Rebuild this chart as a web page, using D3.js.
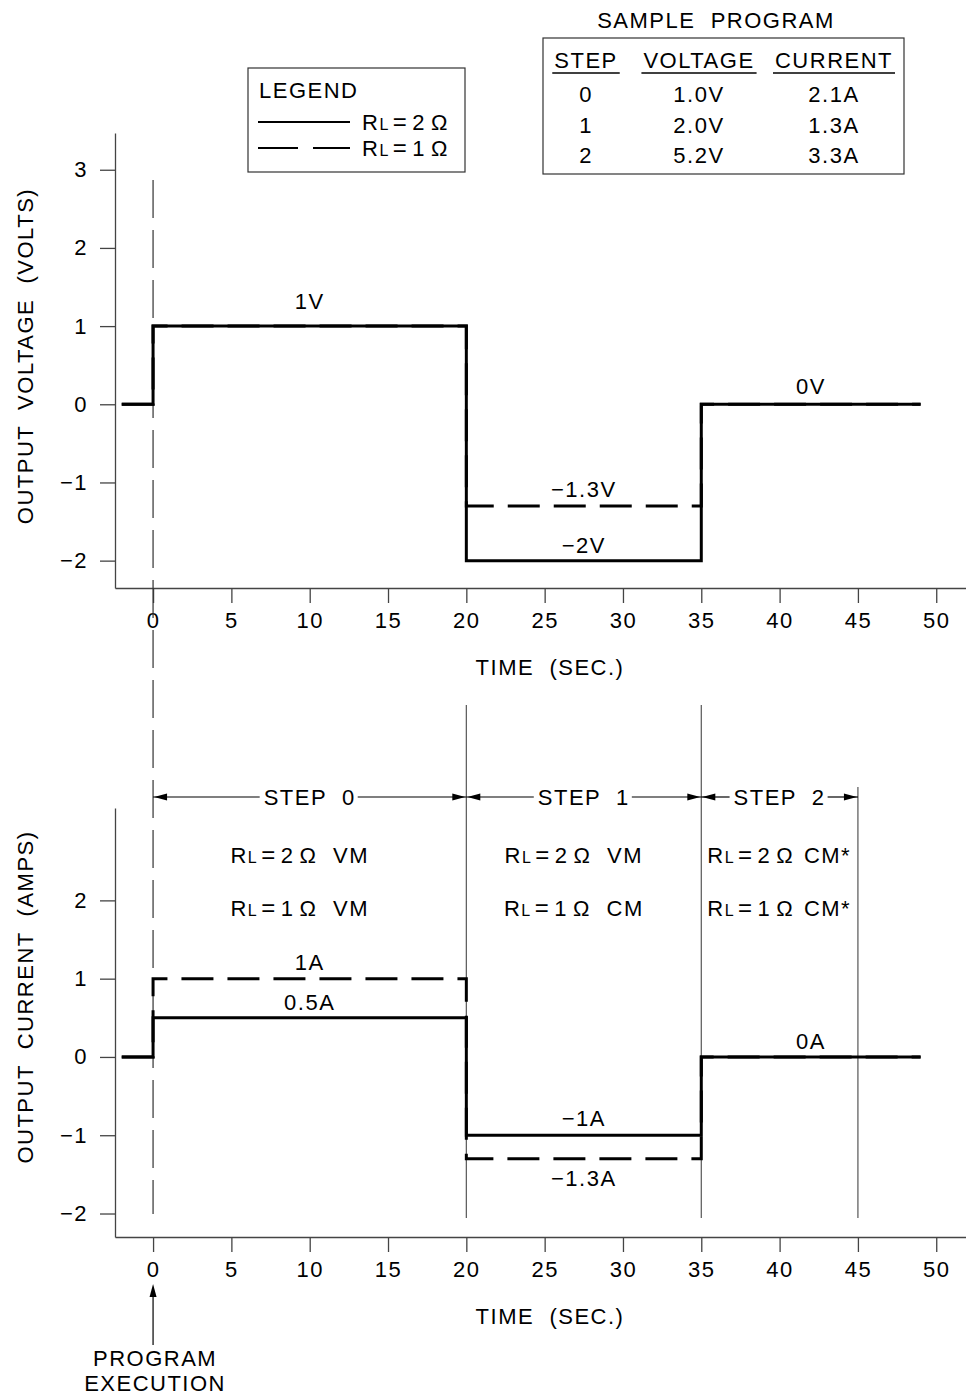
<!DOCTYPE html>
<html>
<head>
<meta charset="utf-8">
<script src="https://cdn.jsdelivr.net/npm/d3@7"></script>
<style>
  body { margin: 0; background: #fff; }
  text { font-family: "Liberation Sans", Arial, sans-serif; font-size: 22px; letter-spacing: 1.5px; fill: #000; white-space: pre; }
</style>
</head>
<body>
<div id="chart"></div>
<script>
// step programme, time in seconds
const times = [-2, 0, 20, 35, 49];
const voltage2Ohm = [0, 1, -2, 0, 0];
const voltage1Ohm = [0, 1, -1.3, 0, 0];
const current2Ohm = [0, 0.5, -1, 0, 0];
const current1Ohm = [0, 1, -1.3, 0, 0];

const xTicks = [0, 5, 10, 15, 20, 25, 30, 35, 40, 45, 50];
const voltTicks = [-2, -1, 0, 1, 2, 3];
const ampTicks = [-2, -1, 0, 1, 2];

const stepBounds = [0, 20, 35, 45];
const stepNames = ["STEP  0", "STEP  1", "STEP  2"];
const mode2Ohm = ["VM", "VM", "CM*"];
const mode1Ohm = ["VM", "CM", "CM*"];

const progSteps = ["0", "1", "2"];
const progVolts = ["1.0V", "2.0V", "5.2V"];
const progAmps = ["2.1A", "1.3A", "3.3A"];

const W = 966, H = 1397;
const svg = d3.select("#chart").append("svg")
  .attr("width", W).attr("height", H);

const x = d3.scaleLinear().domain([-2.43, 51.9]).range([115, 966]);
const yV = d3.scaleLinear().domain([-2.35, 3.47]).range([588, 133]);
const yA = d3.scaleLinear().domain([-2.3, 3.18]).range([1237, 808]);

const axisColor = "#444";

function drawAxes(y, ticks, title, titleY) {
  const bottom = y.range()[0];
  const gx = svg.append("g")
    .attr("transform", `translate(0,${bottom})`)
    .call(d3.axisBottom(x).tickValues(xTicks).tickSize(15).tickSizeOuter(0).tickPadding(9));
  const gy = svg.append("g")
    .attr("transform", `translate(${x.range()[0]},0)`)
    .call(d3.axisLeft(y).tickValues(ticks).tickFormat(d3.format("d"))
      .tickSize(15).tickSizeOuter(0).tickPadding(12));
  [gx, gy].forEach(g => {
    g.selectAll("path, line").attr("stroke", axisColor).attr("stroke-width", 1.3);
    g.selectAll("text").attr("fill", "#000");
  });
  svg.append("text")
    .attr("x", 550).attr("y", bottom + 87)
    .attr("text-anchor", "middle")
    .text("TIME  (SEC.)");
  svg.append("text")
    .attr("transform", `translate(33,${titleY}) rotate(-90)`)
    .attr("text-anchor", "middle")
    .text(title);
}

drawAxes(yV, voltTicks, "OUTPUT  VOLTAGE  (VOLTS)", 356);
drawAxes(yA, ampTicks, "OUTPUT  CURRENT  (AMPS)", 997);

// program execution reference line at t = 0
svg.append("line")
  .attr("x1", x(0)).attr("x2", x(0))
  .attr("y1", 180).attr("y2", 1214)
  .attr("stroke", "#333").attr("stroke-width", 1.2)
  .attr("stroke-dasharray", "38,12");

// step boundaries in the lower chart
svg.selectAll(".bound")
  .data(stepBounds.slice(1))
  .join("line")
  .attr("x1", d => x(d)).attr("x2", d => x(d))
  .attr("y1", (d, i) => i === 2 ? 787 : 705)
  .attr("y2", 1218)
  .attr("stroke", "#555").attr("stroke-width", 1.2);

function trace(y, values, dashed) {
  const pts = times.map((t, i) => ({ t, v: values[i] }));
  const line = d3.line().x(d => x(d.t)).y(d => y(d.v)).curve(d3.curveStepAfter);
  svg.append("path")
    .datum(pts)
    .attr("d", line)
    .attr("fill", "none")
    .attr("stroke", "#000")
    .attr("stroke-width", 3)
    .attr("stroke-dasharray", dashed ? "32,14" : null);
}

trace(yV, voltage2Ohm, false);
trace(yV, voltage1Ohm, true);
trace(yA, current2Ohm, false);
trace(yA, current1Ohm, true);

// value labels on each level
function levelLabel(y, i, values, txt, dy) {
  const mid = (times[i] + times[i + 1]) / 2;
  svg.append("text")
    .attr("x", x(mid)).attr("y", y(values[i]) + dy)
    .attr("text-anchor", "middle")
    .text(txt);
}
const fmt = v => d3.format("")(v);
levelLabel(yV, 1, voltage2Ohm, fmt(voltage2Ohm[1]) + "V", -17);
levelLabel(yV, 2, voltage1Ohm, fmt(voltage1Ohm[2]) + "V", -9);
levelLabel(yV, 2, voltage2Ohm, fmt(voltage2Ohm[2]) + "V", -8);
levelLabel(yV, 3, voltage2Ohm, fmt(voltage2Ohm[3]) + "V", -10);
levelLabel(yA, 1, current1Ohm, fmt(current1Ohm[1]) + "A", -9);
levelLabel(yA, 1, current2Ohm, fmt(current2Ohm[1]) + "A", -8);
levelLabel(yA, 2, current2Ohm, fmt(current2Ohm[2]) + "A", -9);
levelLabel(yA, 2, current1Ohm, fmt(current1Ohm[2]) + "A", 27);
levelLabel(yA, 3, current2Ohm, fmt(current2Ohm[3]) + "A", -8);

// R_L text with small L and a wide "=" as in the drawing font
function rl(sel, ohms, suffix, gap) {
  sel.append("tspan").text("R");
  sel.append("tspan").style("font-size", "16px").attr("dx", 0).text("L");
  sel.append("tspan").style("font-size", "24px").attr("dx", 3).text("=");
  sel.append("tspan").attr("dx", 4).text(ohms);
  sel.append("tspan").attr("dx", 5).text("Ω");
  if (suffix) sel.append("tspan").attr("dx", gap).text(suffix);
}

// step dimension arrows
const dimY = 797;
function arrowHead(px, dir) {
  svg.append("path")
    .attr("d", `M${px},${dimY} l${-dir * 13},-3.5 l0,7 z`)
    .attr("fill", "#000");
}
stepNames.forEach((name, i) => {
  const x0 = x(stepBounds[i]), x1 = x(stepBounds[i + 1]);
  const cx = (x0 + x1) / 2;
  const t = svg.append("text")
    .attr("x", cx).attr("y", dimY + 8)
    .attr("text-anchor", "middle")
    .text(name);
  const w = t.node().getComputedTextLength();
  svg.append("line").attr("x1", x0).attr("x2", cx - w / 2 - 4)
    .attr("y1", dimY).attr("y2", dimY).attr("stroke", "#000").attr("stroke-width", 1.2);
  svg.append("line").attr("x1", cx + w / 2 + 2).attr("x2", x1)
    .attr("y1", dimY).attr("y2", dimY).attr("stroke", "#000").attr("stroke-width", 1.2);
  arrowHead(x0 + 1, -1);
  arrowHead(x1 - 1, 1);

  const last = i === 2;
  const anchor = last ? "start" : "middle";
  const tx = last ? x0 + 6 : cx - 10;
  const gap = last ? 2 : 8;
  rl(svg.append("text").attr("x", tx).attr("y", 863).attr("text-anchor", anchor), "2", " " + mode2Ohm[i], gap);
  rl(svg.append("text").attr("x", tx).attr("y", 916).attr("text-anchor", anchor), "1", " " + mode1Ohm[i], gap);
});

// legend
const leg = svg.append("g");
leg.append("rect").attr("x", 248).attr("y", 68).attr("width", 217).attr("height", 104)
  .attr("fill", "none").attr("stroke", "#333").attr("stroke-width", 1.2);
leg.append("text").attr("x", 259).attr("y", 98).text("LEGEND");
leg.append("line").attr("x1", 258).attr("x2", 350).attr("y1", 122).attr("y2", 122)
  .attr("stroke", "#000").attr("stroke-width", 2);
leg.append("line").attr("x1", 258).attr("x2", 350).attr("y1", 148).attr("y2", 148)
  .attr("stroke", "#000").attr("stroke-width", 2).attr("stroke-dasharray", "40,15");
rl(leg.append("text").attr("x", 362).attr("y", 130), "2");
rl(leg.append("text").attr("x", 362).attr("y", 156), "1");

// sample program table
const tb = svg.append("g");
tb.append("text").attr("x", 716).attr("y", 28).attr("text-anchor", "middle").text("SAMPLE  PROGRAM");
tb.append("rect").attr("x", 543).attr("y", 38).attr("width", 361).attr("height", 136)
  .attr("fill", "none").attr("stroke", "#333").attr("stroke-width", 1.2);
const cols = [
  { head: "STEP", cx: 586, vals: progSteps },
  { head: "VOLTAGE", cx: 699, vals: progVolts },
  { head: "CURRENT", cx: 834, vals: progAmps }
];
cols.forEach(c => {
  const h = tb.append("text").attr("x", c.cx).attr("y", 68).attr("text-anchor", "middle").text(c.head);
  const w = h.node().getComputedTextLength();
  tb.append("line").attr("x1", c.cx - w / 2 - 2).attr("x2", c.cx + w / 2 + 2)
    .attr("y1", 73).attr("y2", 73).attr("stroke", "#000").attr("stroke-width", 1.3);
  c.vals.forEach((v, j) => {
    tb.append("text").attr("x", c.cx).attr("y", 102 + j * 30.5).attr("text-anchor", "middle").text(v);
  });
});

// program execution pointer
svg.append("line").attr("x1", x(0)).attr("x2", x(0)).attr("y1", 1345).attr("y2", 1296)
  .attr("stroke", "#000").attr("stroke-width", 1.2);
svg.append("path").attr("d", `M${x(0)},1284 l-3.5,13 l7,0 z`).attr("fill", "#000");
svg.append("text").attr("x", x(0) + 2).attr("y", 1366).attr("text-anchor", "middle").text("PROGRAM");
svg.append("text").attr("x", x(0) + 2).attr("y", 1391).attr("text-anchor", "middle").text("EXECUTION");
</script>
</body>
</html>
